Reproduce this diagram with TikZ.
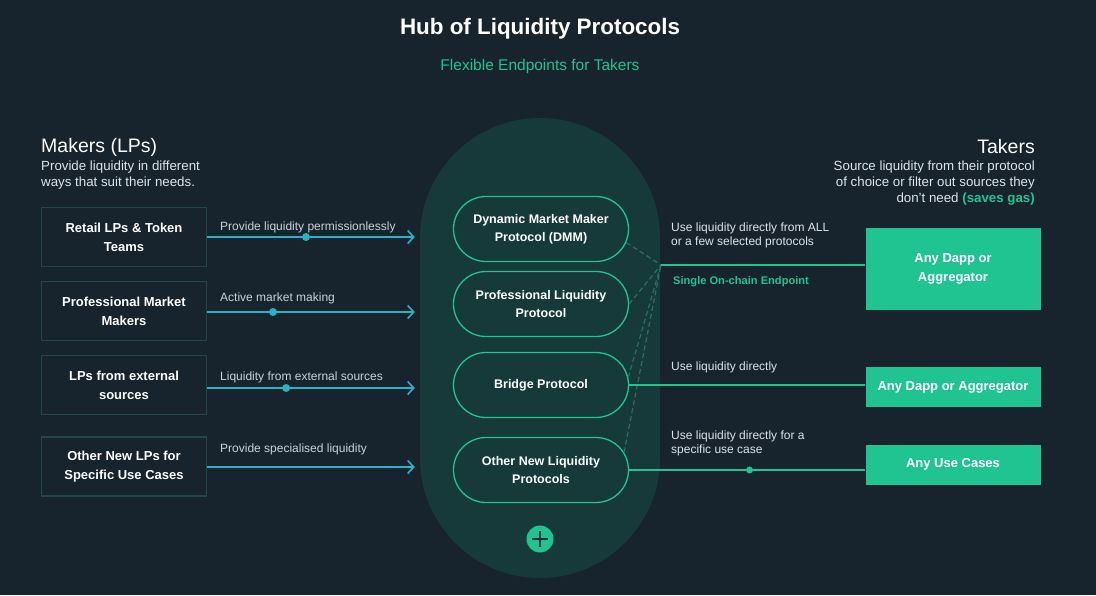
\documentclass[tikz,border=0pt]{standalone}
\usepackage{fontspec}
\setmainfont{Liberation Sans}
\usetikzlibrary{arrows.meta,shapes.misc}
\definecolor{bg}{HTML}{17242E}
\definecolor{hubc}{HTML}{163A3A}
\definecolor{grn}{HTML}{1FC490}
\definecolor{cya}{HTML}{2AB2C4}
\definecolor{boxb}{HTML}{22464B}
\definecolor{lbl}{HTML}{C9D3D8}
\definecolor{para}{HTML}{DDE4E8}
\definecolor{dsh}{HTML}{2E6E62}
\definecolor{dark}{HTML}{17303A}
\begin{document}
\begin{tikzpicture}[x=1pt,y=-1pt,
  maker/.style={draw=boxb, line width=1.5pt, fill=bg, minimum width=165pt, minimum height=59pt, text=white, font=\bfseries\fontsize{13}{19}\selectfont, align=center, inner sep=0pt},
  proto/.style={rounded rectangle, draw=grn, line width=1.3pt, fill=hubc, minimum width=175pt, minimum height=65pt, text=white, font=\bfseries\fontsize{12.5}{18}\selectfont, align=center, inner sep=0pt},
  taker/.style={fill=grn, minimum width=175pt, text=white, font=\bfseries\fontsize{13}{19}\selectfont, align=center, inner sep=0pt},
  arr/.style={draw=cya, line width=1.9pt, -{Straight Barb[length=6pt,width=13pt,line width=1.6pt]}},
  lnk/.style={draw=grn, line width=1.4pt},
  dsl/.style={draw=dsh, line width=1.2pt, dash pattern=on 5pt off 3pt},
  dotc/.style={circle, fill=#1, minimum size=8pt, inner sep=0pt},
  lab/.style={text=lbl, font=\fontsize{12}{13}\selectfont, anchor=west, inner sep=0pt, align=left},
  rlab/.style={text=para, font=\fontsize{12}{13.5}\selectfont, anchor=west, inner sep=0pt, align=left},
  head/.style={text=white, font=\fontsize{19.5}{22}\selectfont, inner sep=0pt},
  sub/.style={text=para, font=\fontsize{13.3}{16}\selectfont, inner sep=0pt}
]
\fill[bg] (0,0) rectangle (1096,595);
\useasboundingbox (0,0) rectangle (1096,595);

% titles
\node[text=white, font=\bfseries\fontsize{22.4}{26}\selectfont] (title) at (540,29) {Hub of Liquidity Protocols};
\node[text=grn, font=\fontsize{15.5}{18}\selectfont] (subtitle) at (540,66) {Flexible Endpoints for Takers};

% headers
\node[head, anchor=west] (mkh) at (41,147) {Makers (LPs)};
\node[sub, anchor=north west, align=left] (mks) at (41,161) {Provide liquidity in different\\ways that suit their needs.};
\node[head, anchor=east] (tkh) at (1035,147) {Takers};
\node[sub, anchor=north east, align=right] (tks) at (1035,161) {Source liquidity from their protocol\\of choice or filter out sources they\\don’t need {\bfseries\color{grn}(saves gas)}};

% hub
\node[rectangle, rounded corners=120pt, fill=hubc, minimum width=240pt, minimum height=460pt, inner sep=0pt] (hub) at (540,348) {};

% protocols
\node[proto] (dmm) at (541,229) {Dynamic Market Maker\\Protocol (DMM)};
\node[proto] (prof) at (541,304) {Professional Liquidity\\Protocol};
\node[proto] (bridge) at (541,385) {Bridge Protocol};
\node[proto] (other) at (541,470) {Other New Liquidity\\Protocols};

% plus
\node[circle, fill=grn, minimum size=27pt, inner sep=0pt] (add) at (540,539) {};
\draw[dark, line width=1.8pt] (add.center) +(-8,0) -- +(8,0);
\draw[dark, line width=1.8pt] (add.center) +(0,-8) -- +(0,8);

% makers
\node[maker] (m1) at (124,237) {Retail LPs \& Token\\Teams};
\node[maker] (m2) at (124,311) {Professional Market\\Makers};
\node[maker] (m3) at (124,385) {LPs from external\\sources};
\node[maker] (m4) at (124,466.5) {Other New LPs for\\Specific Use Cases};

% maker arrows
\draw[arr] (m1.east) -- node[dotc=cya, pos=0.476]{} ([xshift=-5pt]m1.east -| hub.west);
\draw[arr] ([yshift=-1pt]m2.east) -- node[dotc=cya, pos=0.317]{} ([xshift=-5pt,yshift=-1pt]m2.east -| hub.west);
\draw[arr] ([yshift=-3pt]m3.east) -- node[dotc=cya, pos=0.38]{} ([xshift=-5pt,yshift=-3pt]m3.east -| hub.west);
\draw[arr] ([yshift=-0.5pt]m4.east) -- ([xshift=-5pt,yshift=-0.5pt]m4.east -| hub.west);

\node[lab] (l1) at (220,227) {Provide liquidity permissionlessly};
\node[lab] (l2) at (220,298) {Active market making};
\node[lab] (l3) at (220,377) {Liquidity from external sources};
\node[lab] (l4) at (220,449) {Provide specialised liquidity};

% takers
\node[taker, minimum height=82pt] (t1) at (953,269) {Any Dapp or\\Aggregator};
\node[taker, minimum height=40pt] (t2) at (953,387) {Any Dapp or Aggregator};
\node[taker, minimum height=40pt] (t3) at (953,464.5) {Any Use Cases};

\coordinate (j) at (661,265);

% dashed links
\draw[dsl] (dmm.-9) -- (j);
\draw[dsl] (prof.east) -- (j);
\draw[dsl] (bridge.5) -- (j);
\draw[dsl] (other.12) -- (j);

% taker links
\draw[lnk] (j) -- (j -| t1.west);
\draw[lnk] (bridge.east) -- (bridge.east -| t2.west);
\draw[lnk] (other.east) -- node[dotc=grn, minimum size=7pt, pos=0.51]{} (other.east -| t3.west);

\node[rlab, anchor=north west] (r1) at (671,223) {Use liquidity directly from ALL\\or a few selected protocols};
\node[anchor=west, inner sep=0pt, text=grn, font=\bfseries\fontsize{11.1}{13}\selectfont] (r1b) at (673,282) {Single On-chain Endpoint};
\node[rlab] (r2) at (671,367) {Use liquidity directly};
\node[rlab, anchor=north west] (r3) at (671,431) {Use liquidity directly for a\\specific use case};
\end{tikzpicture}
\end{document}
